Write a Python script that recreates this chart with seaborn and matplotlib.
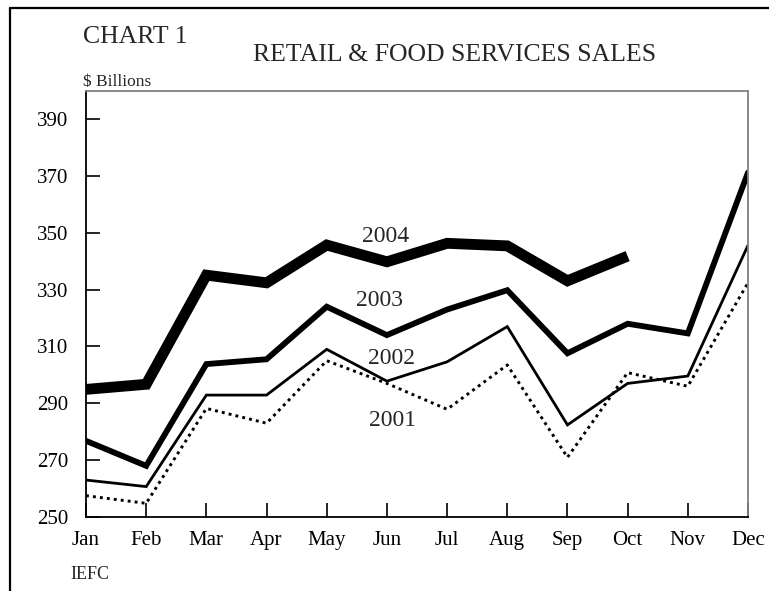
import matplotlib
matplotlib.use("Agg")
import matplotlib.pyplot as plt
import seaborn as sns
import pandas as pd
from matplotlib.lines import Line2D

months = ["Jan", "Feb", "Mar", "Apr", "May", "Jun", "Jul", "Aug", "Sep", "Oct", "Nov", "Dec"]
sales_2001 = [257.5, 254.8, 288.2, 283.0, 305.0, 297.0, 287.9, 303.5, 271.0, 300.8, 296.0, 332.4]
sales_2002 = [263.0, 260.7, 292.9, 292.9, 309.0, 297.8, 304.6, 317.0, 282.4, 297.0, 299.6, 345.6]
sales_2003 = [276.8, 268.0, 303.8, 305.5, 324.0, 314.0, 323.0, 329.8, 307.6, 318.0, 314.6, 371.2]
sales_2004 = [294.9, 296.7, 335.1, 332.4, 345.7, 339.8, 346.3, 345.4, 333.1, 341.8]
yticks = [250, 270, 290, 310, 330, 350, 370, 390]

sns.set_theme(style="white")
plt.rcParams["font.family"] = ["Liberation Serif", "DejaVu Serif"]

W, H = 769, 591
fig = plt.figure(figsize=(W / 100, H / 100), dpi=100)
ax = fig.add_axes([86 / W, 1 - 517 / H, (748 - 86) / W, (517 - 90.7) / H])

def frame(vals):
    return pd.DataFrame({"m": range(len(vals)), "v": vals})

sns.lineplot(data=frame(sales_2001), x="m", y="v", ax=ax, color="black",
             lw=2.1, linestyle=(0, (1, 1.4)), dash_capstyle="butt")
sns.lineplot(data=frame(sales_2002), x="m", y="v", ax=ax, color="black", lw=2.0,
             solid_joinstyle="miter")
sns.lineplot(data=frame(sales_2003), x="m", y="v", ax=ax, color="black", lw=4.2,
             solid_joinstyle="miter")
sns.lineplot(data=frame(sales_2004), x="m", y="v", ax=ax, color="black", lw=7.8,
             solid_joinstyle="miter", solid_capstyle="butt")

ax.set_xlim(0, 11)
ax.set_ylim(250, 400)
ax.set_xticks(range(12))
ax.set_xticklabels(months)
ax.set_yticks(yticks)
ax.set_yticklabels([str(t) for t in yticks])
ax.set_xlabel("")
ax.set_ylabel("")
ax.tick_params(axis="both", direction="in", length=10, width=1.2, colors="black",
               labelsize=15, top=False, right=False, left=True, bottom=True)
ax.tick_params(axis="y", pad=13)
ax.tick_params(axis="x", pad=10)

for s in ["left", "bottom"]:
    ax.spines[s].set_color("black")
    ax.spines[s].set_linewidth(1.3)
for s in ["top", "right"]:
    ax.spines[s].set_color("#808080")
    ax.spines[s].set_linewidth(1.3)

# series labels
ax.text(4.985, 348.8, "2004", ha="center", va="center", fontsize=17)
ax.text(4.885, 326.3, "2003", ha="center", va="center", fontsize=17)
ax.text(5.084, 305.9, "2002", ha="center", va="center", fontsize=17)
ax.text(5.10, 284.1, "2001", ha="center", va="center", fontsize=17)

# texts in figure pixels
def ft(x, y, s, **kw):
    fig.text(x / W, 1 - y / H, s, **kw)

ft(83, 43, "CHART 1", fontsize=18.5, ha="left", va="baseline")
ft(455, 61, "RETAIL & FOOD SERVICES SALES", fontsize=18.5, ha="center", va="baseline")
ft(83, 86, "$ Billions", fontsize=12.5, ha="left", va="baseline")
ft(70, 579, "IEFC", fontsize=13, ha="left", va="baseline")

# outer frame (extends past the image)
fig.add_artist(Line2D([10 / W, 10 / W], [0, 1 - 8 / H], color="black", lw=1.6,
                      transform=fig.transFigure))
fig.add_artist(Line2D([10 / W, 1], [1 - 8 / H, 1 - 8 / H], color="black", lw=1.6,
                      transform=fig.transFigure))

fig.savefig("out.png", dpi=100, facecolor="white")
